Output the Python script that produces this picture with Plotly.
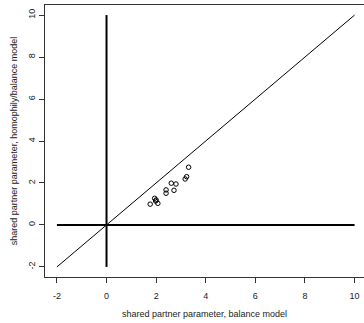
import plotly.graph_objects as go

# Data
balance_sp = [1.76, 1.94, 1.98, 2.00, 2.07, 2.40, 2.40, 2.72, 2.61, 2.80, 3.17, 3.23, 3.31]
homophily_sp = [0.99, 1.27, 1.14, 1.19, 1.03, 1.67, 1.51, 1.65, 1.99, 1.95, 2.19, 2.30, 2.75]
ref_span = [-2, 10]          # extent of the reference lines
zero = [0, 0]
tick_vals = [-2, 0, 2, 4, 6, 8, 10]
tick_text = ["-2", "0", "2", "4", "6", "8", "10"]

font = dict(family="Liberation Sans, Arial, sans-serif", size=9, color="#222")

fig = go.Figure()
# diagonal y = x
fig.add_trace(go.Scatter(x=ref_span, y=ref_span, mode="lines",
                         line=dict(color="black", width=1), hoverinfo="skip"))
# vertical x = 0
fig.add_trace(go.Scatter(x=zero, y=ref_span, mode="lines",
                         line=dict(color="black", width=2), hoverinfo="skip"))
# horizontal y = 0
fig.add_trace(go.Scatter(x=ref_span, y=zero, mode="lines",
                         line=dict(color="black", width=2), hoverinfo="skip"))
# points
fig.add_trace(go.Scatter(x=balance_sp, y=homophily_sp, mode="markers",
                         marker=dict(symbol="circle-open", size=4.5,
                                     color="black", line=dict(width=1))))

fig.update_layout(
    width=364, height=323,
    margin=dict(l=45, r=0, t=5, b=46, autoexpand=False),
    paper_bgcolor="white", plot_bgcolor="white",
    showlegend=False,
    font=font,
)
fig.update_xaxes(
    range=[-2.48, 10.38], showgrid=False, zeroline=False, automargin=False,
    tickmode="array", tickvals=tick_vals, ticktext=tick_text,
    ticks="outside", ticklen=5, tickwidth=1, tickcolor="#333",
    showline=True, linecolor="#333", linewidth=1, mirror=True,
    ticklabelstandoff=5,
    title=dict(text="shared partner parameter, balance model",
               font=dict(size=9), standoff=10),
)
fig.update_yaxes(
    range=[-2.48, 10.48], showgrid=False, zeroline=False, automargin=False,
    tickmode="array", tickvals=tick_vals, ticktext=tick_text,
    ticks="outside", ticklen=5, tickwidth=1, tickcolor="#333",
    tickangle=-90,
    showline=True, linecolor="#333", linewidth=1, mirror=False,
    title=dict(text="shared partner parameter, homophily/balance model",
               font=dict(size=9), standoff=8),
)

fig.write_html("out.html",
               config={"displayModeBar": False},
               post_script="document.body.style.margin='0px';document.body.style.overflow='hidden';")
